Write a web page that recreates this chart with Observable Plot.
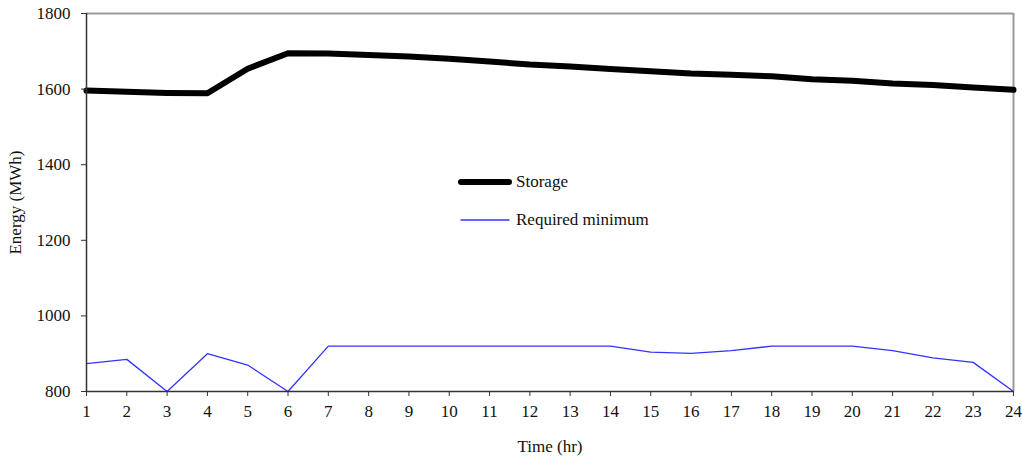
<!DOCTYPE html>
<html>
<head>
<meta charset="utf-8">
<script src="https://cdn.jsdelivr.net/npm/d3@7"></script>
<script src="https://cdn.jsdelivr.net/npm/@observablehq/plot@0.6"></script>
<style>
  html, body { margin: 0; padding: 0; background: #fff; }
  #wrap { position: relative; width: 1022px; height: 459px; font-family: "Liberation Serif", Tinos, "Times New Roman", Times, "DejaVu Serif", serif; }
  #wrap svg text { font-family: "Liberation Serif", Tinos, "Times New Roman", Times, "DejaVu Serif", serif; }
  #legend { position: absolute; left: 458px; top: 170px; font-size: 17px; color: #111; }
  #legend .row { display: flex; align-items: center; height: 24px; margin-bottom: 14px; }
  #legend svg { margin-right: 4px; }
</style>
</head>
<body>
<div id="wrap"></div>
<script>
const hours = [1,2,3,4,5,6,7,8,9,10,11,12,13,14,15,16,17,18,19,20,21,22,23,24];
const storage = [1596,1593,1590,1589,1654,1695,1694,1690,1686,1680,1673,1665,1660,1653,1647,1641,1638,1634,1626,1622,1615,1611,1604,1598];
const requiredMin = [874,885,800,900,870,800,920,920,920,920,920,920,920,920,904,901,908,920,920,920,908,889,877,800];
const yTicks = [800,1000,1200,1400,1600,1800];
const seriesNames = ["Storage", "Required minimum"];
const seriesColors = ["#000000", "#3333ff"];
const seriesWidths = [6, 1.3];

const rows = [];
hours.forEach((h, i) => {
  rows.push({hour: h, value: storage[i], series: seriesNames[0]});
  rows.push({hour: h, value: requiredMin[i], series: seriesNames[1]});
});

const serif = "'Liberation Serif', Tinos, 'Times New Roman', Times, 'DejaVu Serif', serif";

const chart = Plot.plot({
  width: 1022,
  height: 459,
  marginLeft: 86,
  marginRight: 9,
  marginTop: 13,
  marginBottom: 68,
  style: {fontFamily: serif, fontSize: "17px", color: "#111", background: "#fff"},
  x: {domain: [1, 24]},
  y: {domain: [800, 1800]},
  marks: [
    Plot.ruleY([1800], {stroke: "#999", strokeWidth: 2}),
    Plot.ruleX([24], {stroke: "#999", strokeWidth: 2}),
    Plot.line(rows.filter(d => d.series === seriesNames[1]), {x: "hour", y: "value", stroke: seriesColors[1], strokeWidth: seriesWidths[1]}),
    Plot.line(rows.filter(d => d.series === seriesNames[0]), {x: "hour", y: "value", stroke: seriesColors[0], strokeWidth: seriesWidths[0]}),
    Plot.ruleY([800], {stroke: "#333", strokeWidth: 1.5}),
    Plot.ruleX([1], {stroke: "#333", strokeWidth: 1.5}),
    Plot.axisX({ticks: hours, tickFormat: d => String(d), tickSize: 5, tickPadding: 8, stroke: "#333", fill: "#111",
      label: "Time (hr)", labelAnchor: "center", labelArrow: "none", labelOffset: 60, fontSize: 17}),
    Plot.axisY({ticks: yTicks, tickFormat: d => String(d), tickSize: 5, tickPadding: 11, stroke: "#333", fill: "#111",
      label: "Energy (MWh)", labelAnchor: "center", labelArrow: "none", labelOffset: 78, fontSize: 17})
  ]
});

const wrap = document.getElementById("wrap");
wrap.appendChild(chart);

const legend = document.createElement("div");
legend.id = "legend";
seriesNames.forEach((name, i) => {
  const row = document.createElement("div");
  row.className = "row";
  row.innerHTML = `<svg width="54" height="10"><line x1="3" y1="5" x2="51" y2="5" stroke="${seriesColors[i]}" stroke-width="${seriesWidths[i]}" stroke-linecap="round"/></svg><span>${name}</span>`;
  legend.appendChild(row);
});
wrap.appendChild(legend);
</script>
</body>
</html>
